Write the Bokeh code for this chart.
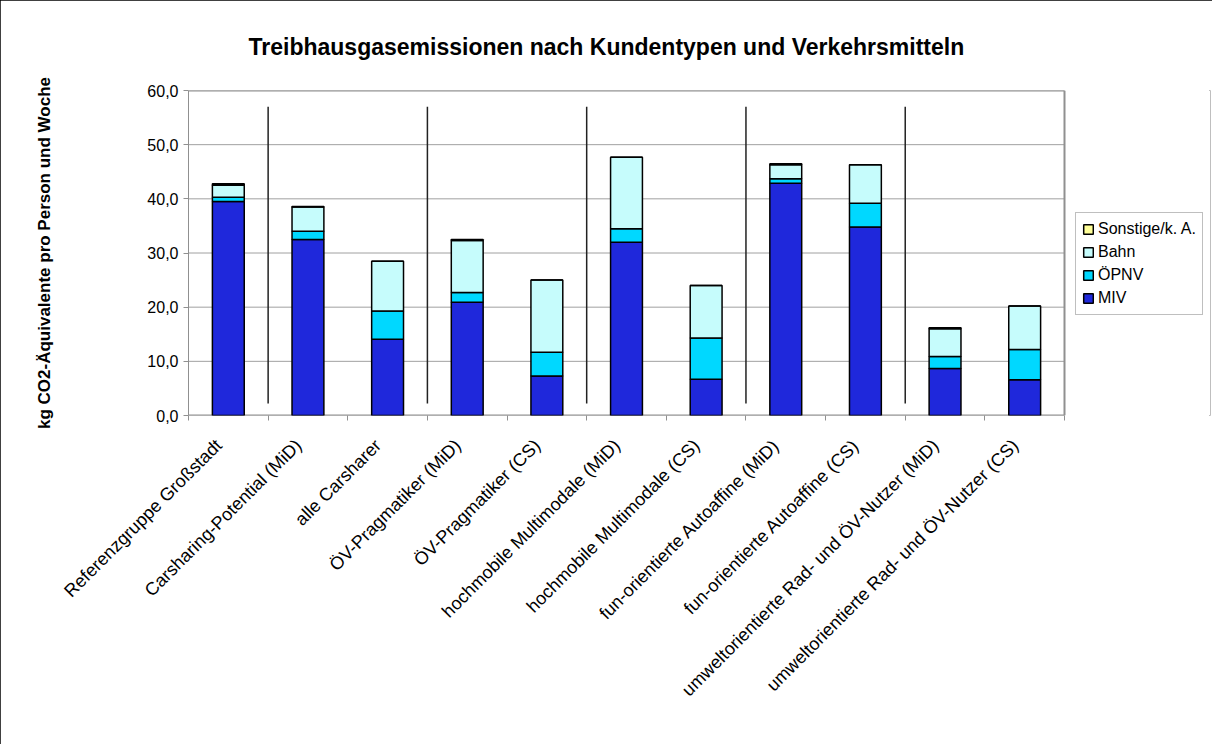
import math
from bokeh.plotting import figure
from bokeh.models import ColumnDataSource, FixedTicker, Legend, LegendItem
from bokeh.embed import file_html
from bokeh.resources import INLINE

categories = [
    "Referenzgruppe Großstadt",
    "Carsharing-Potential (MiD)",
    "alle Carsharer",
    "ÖV-Pragmatiker (MiD)",
    "ÖV-Pragmatiker (CS)",
    "hochmobile Multimodale (MiD)",
    "hochmobile Multimodale (CS)",
    "fun-orientierte Autoaffine (MiD)",
    "fun-orientierte Autoaffine (CS)",
    "umweltorientierte Rad- und ÖV-Nutzer (MiD)",
    "umweltorientierte Rad- und ÖV-Nutzer (CS)",
]
miv = [39.5, 32.5, 14.1, 20.9, 7.3, 32.0, 6.7, 42.9, 34.8, 8.7, 6.6]
oepnv = [0.8, 1.5, 5.2, 1.8, 4.4, 2.5, 7.6, 0.8, 4.4, 2.2, 5.6]
bahn = [2.2, 4.5, 9.2, 9.6, 13.3, 13.2, 9.7, 2.6, 7.1, 5.1, 8.0]
sonstige = [0.3, 0.1, 0.0, 0.2, 0.0, 0.0, 0.0, 0.2, 0.0, 0.2, 0.0]
# group index of each category (separators are drawn between groups)
groups = [0, 1, 1, 2, 2, 3, 3, 4, 4, 5, 5]
y_ticks = [0, 10, 20, 30, 40, 50, 60]
y_tick_labels = ["0,0", "10,0", "20,0", "30,0", "40,0", "50,0", "60,0"]

FONT = "Liberation Sans"
N = len(categories)
x = list(range(N))
src = ColumnDataSource(dict(x=x, MIV=miv, OEPNV=oepnv, Bahn=bahn, Sonstige=sonstige))

# frame spans to the right edge so the legend can sit beside the plot area
W, H = 1212, 744
LEFT, RIGHT, TOP, BOTTOM = 188, 2, 90, 329
AREA_W = 876  # pixel width of the plot area holding the categories
frame_w = W - LEFT - RIGHT
x_end = -0.5 + N * frame_w / AREA_W

p = figure(width=W, height=H, output_backend="svg", toolbar_location=None,
           x_range=(-0.5, x_end), y_range=(0, 60),
           min_border_left=LEFT, min_border_right=RIGHT, min_border_top=TOP,
           min_border_bottom=BOTTOM)
p.styles = {"outline": "3px solid black", "outline-offset": "-3px"}

p.title.text = "Treibhausgasemissionen nach Kundentypen und Verkehrsmitteln"
p.title.text_font = FONT
p.title.text_font_size = "23px"
p.title.text_font_style = "bold"
p.title.text_color = "black"
p.title.align = "left"
p.title.offset = 60
p.title.standoff = 62

GRID = "#A0A0A0"
AXIS = "#909090"
# horizontal grid lines limited to the plot area
p.segment(x0=[-0.5] * len(y_ticks), x1=[N - 0.5] * len(y_ticks), y0=y_ticks, y1=y_ticks,
          line_color=GRID, line_width=1)
# plot-area border: top, right, bottom
p.segment(x0=[-0.5, N - 0.5, -0.5], x1=[N - 0.5, N - 0.5, N - 0.5],
          y0=[60, 0, 0], y1=[60, 60, 0], line_color=AXIS, line_width=2)

renderers = p.vbar_stack(["MIV", "OEPNV", "Bahn", "Sonstige"], x="x", width=0.4,
                         source=src,
                         color=["#1F28DB", "#00D8FF", "#C6FCFC", "#FFFF99"],
                         line_color="black", line_width=1.5)

# separators between groups
sep_x = [i + 0.5 for i in range(N - 1) if groups[i] != groups[i + 1]]
p.segment(x0=sep_x, x1=sep_x, y0=[2.2] * len(sep_x), y1=[57.0] * len(sep_x),
          line_color="#222222", line_width=1.5)

# axes
shift = 0.12
tick_pos = [round(i - shift, 2) for i in x]
p.xaxis.ticker = FixedTicker(ticks=tick_pos, minor_ticks=[i - 0.5 for i in range(N + 1)])
p.xaxis.major_label_overrides = {t: c for t, c in zip(tick_pos, categories)}
p.xaxis.major_label_orientation = math.pi / 4
p.xaxis.major_tick_line_color = None
p.xaxis.minor_tick_in = 0
p.xaxis.minor_tick_out = 5
p.xaxis.minor_tick_line_color = AXIS
p.xaxis.axis_line_color = None
p.xaxis.major_label_text_font = FONT
p.xaxis.major_label_text_font_size = "18px"
p.xaxis.major_label_text_color = "black"
p.xaxis.major_label_standoff = 21

p.yaxis.ticker = FixedTicker(ticks=y_ticks, minor_ticks=[])
p.yaxis.major_label_overrides = {t: l for t, l in zip(y_ticks, y_tick_labels)}
p.yaxis.major_tick_in = 0
p.yaxis.major_tick_out = 5
p.yaxis.major_tick_line_color = AXIS
p.yaxis.axis_line_color = AXIS
p.yaxis.major_label_text_font = FONT
p.yaxis.major_label_text_font_size = "16px"
p.yaxis.major_label_text_color = "black"
p.yaxis.major_label_standoff = 5
p.yaxis.axis_label = "kg CO2-Äquivalente pro Person und Woche"
p.yaxis.axis_label_text_font = FONT
p.yaxis.axis_label_text_font_size = "17px"
p.yaxis.axis_label_text_font_style = "bold"
p.yaxis.axis_label_text_color = "black"
p.yaxis.axis_label_standoff = 90

p.xgrid.grid_line_color = None
p.ygrid.grid_line_color = None
p.outline_line_color = None

legend = Legend(items=[
    LegendItem(label="Sonstige/k. A.", renderers=[renderers[3]]),
    LegendItem(label="Bahn", renderers=[renderers[2]]),
    LegendItem(label="ÖPNV", renderers=[renderers[1]]),
    LegendItem(label="MIV", renderers=[renderers[0]]),
], location=(887, 100))
legend.label_text_font = FONT
legend.label_text_font_size = "16px"
legend.label_text_color = "black"
legend.glyph_width = 12
legend.glyph_height = 12
legend.label_height = 20
legend.spacing = 3
legend.label_standoff = 4
legend.padding = 6
legend.margin = 0
legend.border_line_color = "#808080"
legend.border_line_width = 1
legend.background_fill_alpha = 1
p.add_layout(legend, "center")

open("out.html", "w").write(file_html(p, INLINE))
